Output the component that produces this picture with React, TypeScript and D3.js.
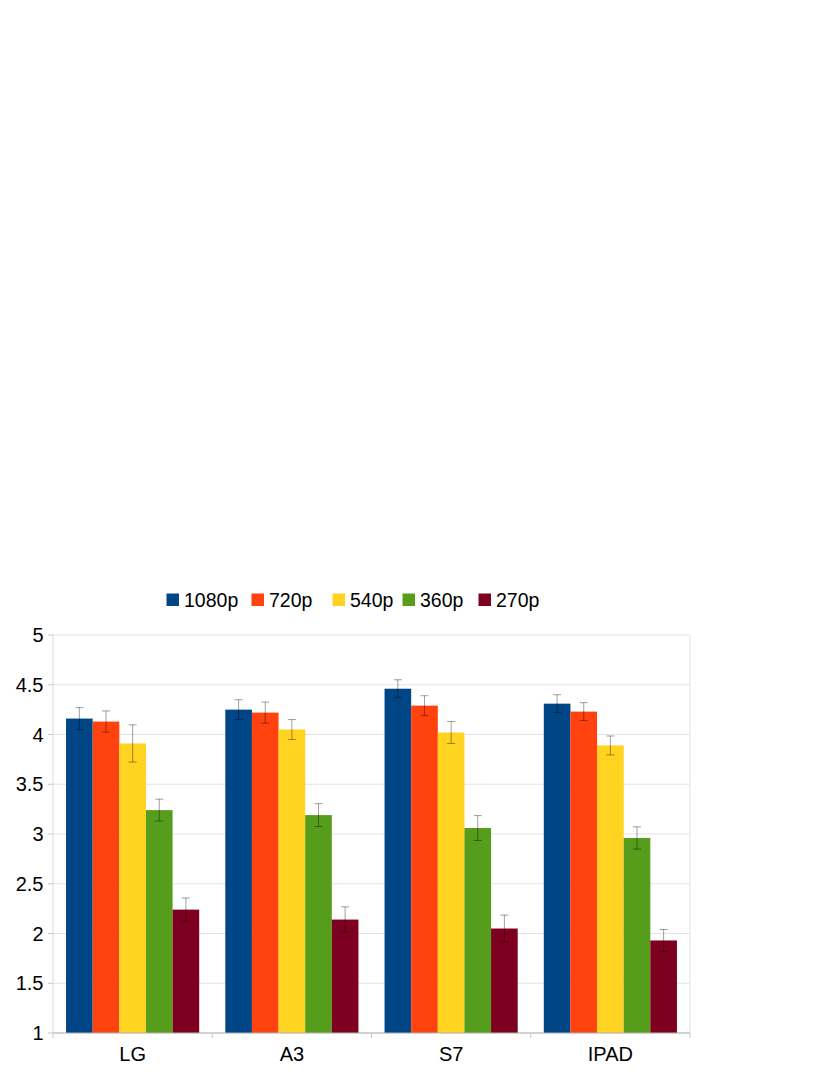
import React from "react";
import * as d3 from "d3";

const categories = ["LG", "A3", "S7", "IPAD"];
const seriesNames = ["1080p", "720p", "540p", "360p", "270p"];
const seriesColors = ["#004586", "#ff420e", "#ffd320", "#579d1c", "#7e0021"];
// values[series][category]
const v1080 = [4.16, 4.25, 4.46, 4.31];
const v720 = [4.13, 4.22, 4.29, 4.23];
const v540 = [3.91, 4.05, 4.02, 3.89];
const v360 = [3.24, 3.19, 3.06, 2.96];
const v270 = [2.24, 2.14, 2.05, 1.93];
const e1080 = [0.11, 0.1, 0.09, 0.09];
const e720 = [0.107, 0.106, 0.1, 0.09];
const e540 = [0.187, 0.1, 0.11, 0.095];
const e360 = [0.11, 0.115, 0.125, 0.112];
const e270 = [0.117, 0.128, 0.135, 0.11];
const yTicks = [1, 1.5, 2, 2.5, 3, 3.5, 4, 4.5, 5];

const values = [v1080, v720, v540, v360, v270];
const errors = [e1080, e720, e540, e360, e270];

export default function App() {
  const W = 830, H = 1075;
  const left = 53, right = 690, top = 635, bottom = 1033;
  const x0 = d3.scaleBand<string>().domain(categories).range([left, right]).paddingInner(0).paddingOuter(0);
  const x1 = d3.scaleBand<string>().domain(seriesNames).range([0, x0.bandwidth()]).paddingOuter(0.49).paddingInner(0);
  const y = d3.scaleLinear().domain([1, 5]).range([bottom, top]);
  const font = "'Liberation Sans', Arial, sans-serif";
  const legendX = [166.5, 251.5, 332.5, 402.5, 478.5];

  return (
    <svg width={W} height={H} style={{ position: "absolute", left: 0, top: 0 }} fontFamily={font}>
      <rect width={W} height={H} fill="#fff" />
      {/* gridlines */}
      {yTicks.map((t) => (
        <line key={"g" + t} x1={left} x2={right} y1={y(t)} y2={y(t)} stroke="#e3e3e3" strokeWidth={1} />
      ))}
      {/* y axis */}
      <line x1={left} x2={left} y1={top} y2={bottom} stroke="#d9d9d9" />
      <line x1={right} x2={right} y1={top} y2={bottom} stroke="#e3e3e3" />
      {yTicks.map((t) => (
        <g key={"yt" + t}>
          <line x1={left - 5} x2={left} y1={y(t)} y2={y(t)} stroke="#c8c8c8" />
          <text x={43.5} y={y(t)} dy="0.35em" textAnchor="end" fontSize={20} fill="#000">
            {String(t)}
          </text>
        </g>
      ))}
      {/* bars */}
      {categories.map((c, ci) => (
        <g key={c} transform={`translate(${x0(c)},0)`}>
          {seriesNames.map((s, si) => {
            const v = values[si][ci];
            return (
              <rect key={s} x={x1(s)} y={y(v)} width={x1.bandwidth()} height={y(1) - y(v)} fill={seriesColors[si]} />
            );
          })}
        </g>
      ))}
      {/* x axis */}
      <line x1={left} x2={right} y1={bottom} y2={bottom} stroke="#b3b3b3" />
      {d3.range(categories.length + 1).map((i) => {
        const xx = left + i * x0.bandwidth();
        return <line key={"xt" + i} x1={xx} x2={xx} y1={bottom} y2={bottom + 5} stroke="#c8c8c8" />;
      })}
      {categories.map((c) => (
        <text key={"xl" + c} x={(x0(c) as number) + x0.bandwidth() / 2} y={1061} textAnchor="middle" fontSize={20} fill="#000">
          {c}
        </text>
      ))}
      {/* error bars */}
      {categories.map((c, ci) =>
        seriesNames.map((s, si) => {
          const v = values[si][ci];
          const e = errors[si][ci];
          const cx = (x0(c) as number) + (x1(s) as number) + x1.bandwidth() / 2;
          return (
            <g key={c + s} stroke="#000" strokeOpacity={0.38} strokeWidth={1}>
              <line x1={cx} x2={cx} y1={y(v + e)} y2={y(v - e)} />
              <line x1={cx - 4} x2={cx + 4} y1={y(v + e)} y2={y(v + e)} />
              <line x1={cx - 4} x2={cx + 4} y1={y(v - e)} y2={y(v - e)} />
            </g>
          );
        })
      )}
      {/* legend */}
      {seriesNames.map((s, si) => (
        <g key={"lg" + s}>
          <rect x={legendX[si]} y={593.5} width={12.5} height={12.5} fill={seriesColors[si]} />
          <text x={legendX[si] + 17.5} y={606.5} fontSize={19.5} fill="#000">
            {s}
          </text>
        </g>
      ))}
    </svg>
  );
}
